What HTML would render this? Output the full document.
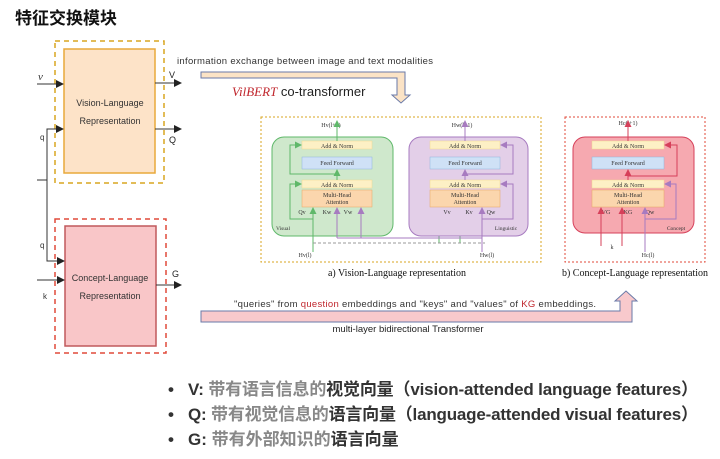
<!DOCTYPE html>
<html><head><meta charset="utf-8"><style>
html,body{margin:0;padding:0;background:#fff;}
svg{display:block;}
.s{font-family:"Liberation Serif",serif;}
.a{font-family:"Liberation Sans","Noto Sans CJK SC",sans-serif;}
</style></head><body>
<svg width="720" height="459" viewBox="0 0 720 459" xmlns="http://www.w3.org/2000/svg">
<defs>
<marker id="ak" markerWidth="8" markerHeight="8" refX="7" refY="4" orient="auto" markerUnits="userSpaceOnUse"><path d="M0,0 L8,4 L0,8 z" fill="#222"/></marker>
<marker id="ag" markerWidth="7" markerHeight="7" refX="6" refY="3.5" orient="auto" markerUnits="userSpaceOnUse"><path d="M0,0 L7,3.5 L0,7 z" fill="#5fb86a"/></marker>
<marker id="ap" markerWidth="7" markerHeight="7" refX="6" refY="3.5" orient="auto" markerUnits="userSpaceOnUse"><path d="M0,0 L7,3.5 L0,7 z" fill="#a77bc0"/></marker>
<marker id="ar" markerWidth="7" markerHeight="7" refX="6" refY="3.5" orient="auto" markerUnits="userSpaceOnUse"><path d="M0,0 L7,3.5 L0,7 z" fill="#d6405a"/></marker>
</defs>
<text x="15" y="24" class="a" font-size="17" font-weight="bold" fill="#111">特征交换模块</text>

<!-- left diagram -->
<rect x="55" y="41" width="109" height="142" fill="none" stroke="#d9a520" stroke-width="1.5" stroke-dasharray="5,4"/>
<rect x="64" y="49" width="91" height="124" fill="#fde3c8" stroke="#e8a93a" stroke-width="1.5"/>
<text x="110" y="106" class="a" font-size="9" text-anchor="middle" fill="#333">Vision-Language</text>
<text x="110" y="124" class="a" font-size="9" text-anchor="middle" fill="#333">Representation</text>
<rect x="55" y="219" width="111" height="134" fill="none" stroke="#e04a3a" stroke-width="1.5" stroke-dasharray="5,4"/>
<rect x="65" y="226" width="91" height="120" fill="#f9c6c8" stroke="#c0585c" stroke-width="1.5"/>
<text x="110" y="281" class="a" font-size="9" text-anchor="middle" fill="#333">Concept-Language</text>
<text x="110" y="299" class="a" font-size="9" text-anchor="middle" fill="#333">Representation</text>
<g stroke="#333" stroke-width="1" fill="none">
<line x1="37" y1="84" x2="63" y2="84" marker-end="url(#ak)"/>
<line x1="155" y1="83" x2="181" y2="83" marker-end="url(#ak)"/>
<line x1="155" y1="129" x2="181" y2="129" marker-end="url(#ak)"/>
<path d="M63,129 H47 V261 H64" />
<line x1="47" y1="129" x2="63" y2="129" marker-end="url(#ak)"/>
<line x1="47" y1="261" x2="64" y2="261" marker-end="url(#ak)"/>
<line x1="37" y1="180" x2="47" y2="180"/>
<line x1="37" y1="280" x2="64" y2="280" marker-end="url(#ak)"/>
<line x1="156" y1="285" x2="181" y2="285" marker-end="url(#ak)"/>
</g>
<text x="38" y="80" class="s" font-size="11" font-style="italic" fill="#333">ν</text>
<text x="40" y="140" class="a" font-size="8" fill="#333">q</text>
<text x="40" y="248" class="a" font-size="8" fill="#333">q</text>
<text x="43" y="299" class="a" font-size="8" fill="#333">k</text>
<text x="169" y="78" class="a" font-size="9" fill="#222">V</text>
<text x="169" y="143" class="a" font-size="9" fill="#222">Q</text>
<text x="172" y="277" class="a" font-size="9" fill="#222">G</text>

<!-- top arrow -->
<text x="305" y="64" class="a" font-size="9.5" text-anchor="middle" fill="#333" textLength="256">information exchange between image and text modalities</text>
<path d="M201,72 H405 V95 H410 L401,103 L392,95 H397 V78 H201 Z" fill="#fbe3c6" stroke="#6a7aa8" stroke-width="1"/>
<text x="232" y="96" class="a" font-size="13" fill="#222"><tspan fill="#c0262d" font-style="italic" class="s">VilBERT</tspan> co-transformer</text>

<!-- a) box -->
<rect x="261" y="117" width="280" height="145" fill="none" stroke="#d9a520" stroke-width="1" stroke-dasharray="2,2"/>
<text x="397" y="276" class="s" font-size="10" text-anchor="middle" fill="#111">a) Vision-Language representation</text>

<!-- green block -->
<rect x="272" y="137" width="121" height="99" rx="12" fill="#cfe8cc" stroke="#5fb86a" stroke-width="1"/>
<rect x="302" y="141" width="70" height="8" fill="#fdf0c5" stroke="#f0d890" stroke-width="0.5"/>
<rect x="302" y="157" width="70" height="12" fill="#cfe1f6" stroke="#8fb4dc" stroke-width="0.5"/>
<rect x="302" y="180" width="70" height="8" fill="#fdf0c5" stroke="#f0d890" stroke-width="0.5"/>
<rect x="302" y="190" width="70" height="17" fill="#fbd6ad" stroke="#e8a863" stroke-width="0.5"/>
<g class="s" font-size="6" text-anchor="middle" fill="#333">
<text x="337" y="148">Add &amp; Norm</text><text x="337" y="165">Feed Forward</text><text x="337" y="187">Add &amp; Norm</text>
<text x="337" y="197">Multi-Head</text><text x="337" y="204">Attention</text>
<text x="302" y="214">Qv</text><text x="327" y="214">Kw</text><text x="348" y="214">Vw</text>
<text x="283" y="230" font-size="5.5">Visual</text>
<text x="331" y="127">Hv(l+1)</text><text x="305" y="257">Hv(l)</text>
</g>
<g stroke="#5fb86a" stroke-width="1" fill="none">
<line x1="337" y1="141" x2="337" y2="121" marker-end="url(#ag)"/>
<line x1="337" y1="180" x2="337" y2="170" marker-end="url(#ag)"/>
<path d="M337,174 H290 V145 H301" marker-end="url(#ag)"/>
<path d="M313,219 H290 V184 H301" marker-end="url(#ag)"/>
<line x1="313" y1="252" x2="313" y2="208" marker-end="url(#ag)"/>
<line x1="439" y1="243" x2="439" y2="208" marker-end="url(#ag)"/>
<line x1="460" y1="243" x2="460" y2="208" marker-end="url(#ag)"/>
</g>
<line x1="313" y1="243" x2="485" y2="243" stroke="#999" stroke-width="1" stroke-dasharray="3,2"/>
<!-- purple block -->
<rect x="409" y="137" width="119" height="99" rx="12" fill="#e3cfe8" stroke="#a77bc0" stroke-width="1"/>
<rect x="430" y="141" width="70" height="8" fill="#fdf0c5" stroke="#f0d890" stroke-width="0.5"/>
<rect x="430" y="157" width="70" height="12" fill="#cfe1f6" stroke="#8fb4dc" stroke-width="0.5"/>
<rect x="430" y="180" width="70" height="8" fill="#fdf0c5" stroke="#f0d890" stroke-width="0.5"/>
<rect x="430" y="190" width="70" height="17" fill="#fbd6ad" stroke="#e8a863" stroke-width="0.5"/>
<g class="s" font-size="6" text-anchor="middle" fill="#333">
<text x="465" y="148">Add &amp; Norm</text><text x="465" y="165">Feed Forward</text><text x="465" y="187">Add &amp; Norm</text>
<text x="465" y="197">Multi-Head</text><text x="465" y="204">Attention</text>
<text x="447" y="214">Vv</text><text x="469" y="214">Kv</text><text x="491" y="214">Qw</text>
<text x="506" y="230" font-size="5.5">Linguistic</text>
<text x="462" y="127">Hw(l+1)</text><text x="487" y="257">Hw(l)</text>
</g>
<g stroke="#a77bc0" stroke-width="1" fill="none">
<line x1="465" y1="141" x2="465" y2="121" marker-end="url(#ap)"/>
<line x1="465" y1="180" x2="465" y2="170" marker-end="url(#ap)"/>
<path d="M465,174 H513 V145 H501" marker-end="url(#ap)"/>
<path d="M482,219 H513 V184 H501" marker-end="url(#ap)"/>
<line x1="482" y1="252" x2="482" y2="208" marker-end="url(#ap)"/>
<path d="M482,238 H337" />
<line x1="337" y1="238" x2="337" y2="208" marker-end="url(#ap)"/>
<line x1="361" y1="238" x2="361" y2="208" marker-end="url(#ap)"/>
</g>

<!-- b) box -->
<rect x="565" y="117" width="140" height="145" fill="none" stroke="#e04a3a" stroke-width="1" stroke-dasharray="2,2"/>
<text x="635" y="276" class="s" font-size="10" text-anchor="middle" fill="#111">b) Concept-Language representation</text>
<rect x="573" y="137" width="121" height="96" rx="12" fill="#f6a9b0" stroke="#d6405a" stroke-width="1"/>
<rect x="592" y="141" width="72" height="8" fill="#fdf0c5" stroke="#f0d890" stroke-width="0.5"/>
<rect x="592" y="157" width="72" height="12" fill="#cfe1f6" stroke="#8fb4dc" stroke-width="0.5"/>
<rect x="592" y="180" width="72" height="8" fill="#fdf0c5" stroke="#f0d890" stroke-width="0.5"/>
<rect x="592" y="190" width="72" height="17" fill="#fbd6ad" stroke="#e8a863" stroke-width="0.5"/>
<g class="s" font-size="6" text-anchor="middle" fill="#333">
<text x="628" y="148">Add &amp; Norm</text><text x="628" y="165">Feed Forward</text><text x="628" y="187">Add &amp; Norm</text>
<text x="628" y="197">Multi-Head</text><text x="628" y="204">Attention</text>
<text x="606" y="214">VG</text><text x="628" y="214">KG</text><text x="650" y="214">Qw</text>
<text x="676" y="230" font-size="5.5">Concept</text>
<text x="628" y="125">Hc(l+1)</text><text x="612" y="249">k</text><text x="648" y="257">Hc(l)</text>
</g>
<g stroke="#d6405a" stroke-width="1" fill="none">
<line x1="628" y1="141" x2="628" y2="121" marker-end="url(#ar)"/>
<line x1="628" y1="180" x2="628" y2="170" marker-end="url(#ar)"/>
<path d="M628,176 H677 V145 H665" marker-end="url(#ar)"/>
<line x1="601" y1="246" x2="601" y2="208" marker-end="url(#ar)"/>
<line x1="622" y1="246" x2="622" y2="208" marker-end="url(#ar)"/>
</g>
<g stroke="#a77bc0" stroke-width="1" fill="none">
<line x1="645" y1="252" x2="645" y2="208" marker-end="url(#ap)"/>
<path d="M645,219 H676 V184 H665" marker-end="url(#ap)"/>
</g>

<!-- bottom arrow -->
<path d="M201,311 H620 V301 H615 L626,291 L637,301 H632 V322 H201 Z" fill="#f8c9cc" stroke="#6a7aa8" stroke-width="1"/>
<text x="415" y="307" class="a" font-size="9.5" text-anchor="middle" fill="#333" textLength="362">"queries" from <tspan fill="#c0262d">question</tspan> embeddings and "keys" and "values" of <tspan fill="#c0262d">KG</tspan> embeddings.</text>
<text x="408" y="332" class="a" font-size="9.5" text-anchor="middle" fill="#222">multi-layer bidirectional Transformer</text>

<!-- bullets -->
<g class="a" font-size="17" font-weight="bold" fill="#333">
<text x="168" y="395">•</text><text x="168" y="420">•</text><text x="168" y="445">•</text>
<text x="188" y="395" textLength="510">V: <tspan fill="#888">带有语言信息的</tspan>视觉向量（vision-attended language features）</text>
<text x="188" y="420" textLength="510">Q: <tspan fill="#888">带有视觉信息的</tspan>语言向量（language-attended visual features）</text>
<text x="188" y="445">G: <tspan fill="#888">带有外部知识的</tspan>语言向量</text>
</g>
</svg>
</body></html>
